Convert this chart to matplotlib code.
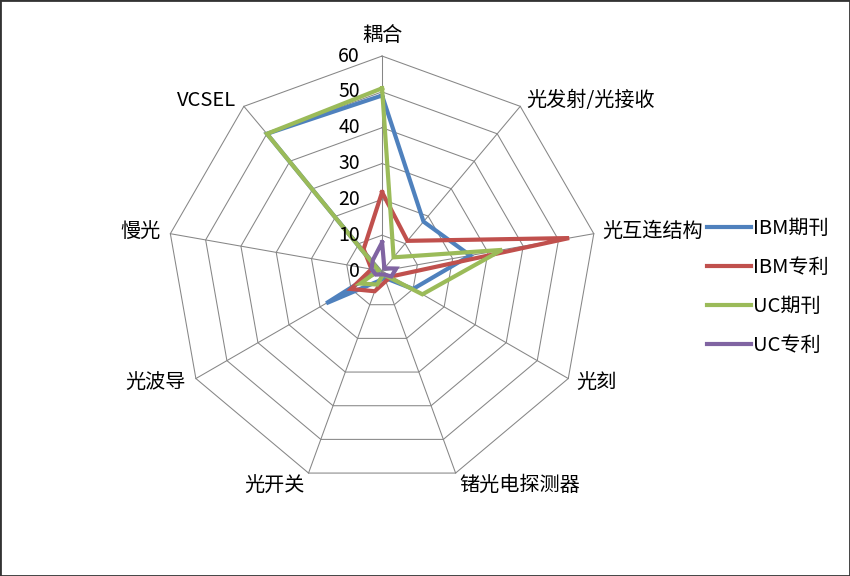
import numpy as np
import matplotlib
matplotlib.use('Agg')
import matplotlib.pyplot as plt
from matplotlib.patches import Rectangle

plt.rcParams['font.family'] = ['Noto Sans CJK SC', 'DejaVu Sans']

# 类别（顺时针，从顶部开始）
categories = ['耦合', '光发射/光接收', '光互连结构', '光刻', '锗光电探测器',
              '光开关', '光波导', '慢光', 'VCSEL']

# 各系列数值
ibm_journal = [49, 18, 25, 10, 2, 3, 18, 1, 50]
ibm_patent = [22, 11, 53, 3, 3, 6, 10, 3, 8]
uc_journal = [51, 5, 34, 13, 1, 4, 7, 1, 50]
uc_patent = [8, 1, 4, 3, 1, 1, 2, 3, 4]

series_names = ['IBM期刊', 'IBM专利', 'UC期刊', 'UC专利']
series_colors = ['#4F81BD', '#C0504D', '#9BBB59', '#8064A2']

r_ticks = [0, 10, 20, 30, 40, 50, 60]

fig = plt.figure(figsize=(8.5, 5.76), dpi=100)
ax = fig.add_axes([0.1965, 0.1562, 0.506, 0.7465], projection='polar')
ax.set_theta_zero_location('N')
ax.set_theta_direction(-1)
ax.set_ylim(0, 60)
ax.grid(False)
ax.set_xticks([])
ax.set_yticks([])
ax.spines['polar'].set_visible(False)
ax.patch.set_visible(False)

n = len(categories)
angles = np.arange(n) * 2 * np.pi / n
closed = np.append(angles, angles[0])

grid_color = '#868686'
# 多边形网格
for v in r_ticks[1:]:
    ax.plot(closed, [v] * (n + 1), color=grid_color, lw=0.75, clip_on=False, zorder=1)
for a in angles:
    ax.plot([a, a], [0, 60], color=grid_color, lw=0.75, clip_on=False, zorder=1)

# 数据系列
all_series = [ibm_journal, ibm_patent, uc_journal, uc_patent]
for vals, name, col in zip(all_series, series_names, series_colors):
    ax.plot(closed, list(vals) + [vals[0]], color=col, lw=3.0, label=name,
            solid_joinstyle='miter', clip_on=False, zorder=3)

# 径向刻度标签
for v in r_ticks:
    ax.annotate(str(v), xy=(0, v), xytext=(-22, 0), textcoords='offset pixels',
                ha='right', va='center', fontsize=14, color='black')

# 类别标签位置偏移
label_pos = [
    ((0, 10), 'center', 'bottom'),
    ((6, 6), 'left', 'center'),
    ((8, 2), 'left', 'center'),
    ((8, -4), 'left', 'center'),
    ((4, -2), 'left', 'top'),
    ((-4, -2), 'right', 'top'),
    ((-10, -4), 'right', 'center'),
    ((-10, 2), 'right', 'center'),
    ((-8, 6), 'right', 'center'),
]
for a, cat, (off, ha, va) in zip(angles, categories, label_pos):
    ax.annotate(cat, xy=(a, 60), xytext=off, textcoords='offset pixels',
                ha=ha, va=va, fontsize=14.5, color='black')

leg = ax.legend(loc='upper left', bbox_to_anchor=(707 / 850, 0.622),
                bbox_transform=fig.transFigure, frameon=False,
                handlelength=2.2, handletextpad=0.1, labelspacing=0.9,
                borderpad=0, borderaxespad=0, fontsize=14.5)

fig.patches.append(Rectangle((0, 0), 1, 1, transform=fig.transFigure,
                             fill=False, edgecolor='#333333', lw=2))

fig.savefig('out.png', dpi=100)
